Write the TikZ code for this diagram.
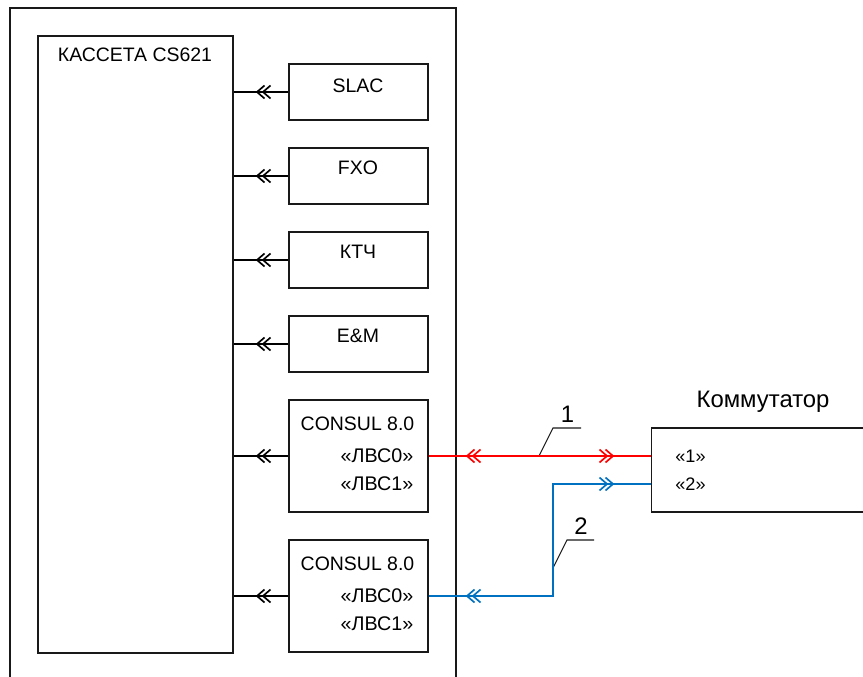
\documentclass[tikz,border=0pt]{standalone}
\usepackage{fontspec}
\setmainfont{Liberation Sans}
\definecolor{linkblue}{RGB}{0,112,192}
\definecolor{inkline}{RGB}{25,25,25}
\tikzset{
  every picture/.style={x=0.75pt,y=-0.75pt},
  frameline/.style={draw=inkline,line width=0.8pt},
  unitbox/.style={draw=inkline,line width=0.8pt,minimum width=104.25pt,inner sep=0pt},
  smallbox/.style={unitbox,minimum height=42pt},
  bigbox/.style={unitbox,minimum height=84pt},
  lbl/.style={font=\fontsize{14.6}{16}\selectfont,text=black,inner sep=0pt},
  portlbl/.style={font=\fontsize{14.8}{16}\selectfont,text=black,inner sep=0pt},
  numlbl/.style={font=\fontsize{13.6}{15}\selectfont,text=black,inner sep=0pt},
  bigtext/.style={font=\fontsize{17.9}{20}\selectfont,text=black,inner sep=0pt},
  link/.style={line width=1.5pt,line cap=butt},
  leader/.style={draw=inkline,line width=0.8pt},
  chev/.style={line width=1.25pt,line join=miter},
}
\newcommand{\chevL}[3][black]{% tip to the left
  \draw[chev,draw=#1] (#2+11,#3-6.5) -- (#2+3.5,#3) -- (#2+11,#3+6.5) (#2+6+11,#3-6.5) -- (#2+6+3.5,#3) -- (#2+6+11,#3+6.5);}
\newcommand{\chevR}[3][black]{% tip to the right
  \draw[chev,draw=#1] (#2-11,#3-6.5) -- (#2-3.5,#3) -- (#2-11,#3+6.5) (#2-6-11,#3-6.5) -- (#2-6-3.5,#3) -- (#2-6-11,#3+6.5);}
\begin{document}
\begin{tikzpicture}
\useasboundingbox (0,0) rectangle (863,677);
\clip (0,0) rectangle (863,677);
% outer frame, runs off the bottom
\draw[frameline] (10,700) -- (10,8) -- (456,8) -- (456,700);
% cassette
\node[unitbox,minimum width=146.25pt,minimum height=462.75pt] (cass) at (135.5,344.5) {};
\node[lbl] (casst) at (135,55) {КАССЕТА CS621};
% units
\node[smallbox] (slac) at (358.5,92) {};
\node[smallbox] (fxo) at (358.5,176) {};
\node[smallbox] (ktch) at (358.5,260) {};
\node[smallbox] (em) at (358.5,344) {};
\node[bigbox] (cona) at (358.5,456) {};
\node[bigbox] (conb) at (358.5,596) {};
\node[lbl] (slact) at (358,86) {SLAC};
\node[lbl] (fxot) at (358,168) {FXO};
\node[lbl] (ktcht) at (358,252) {КТЧ};
\node[lbl] (emt) at (358,336) {E\&M};
\node[lbl] (conat) at (357.5,424) {CONSUL 8.0};
\node[portlbl] (a0) at (377,456) {«ЛВС0»};
\node[portlbl] (a1) at (377,484) {«ЛВС1»};
\node[lbl] (conbt) at (357.5,564) {CONSUL 8.0};
\node[portlbl] (b0) at (377,596) {«ЛВС0»};
\node[portlbl] (b1) at (377,624) {«ЛВС1»};
% switch, runs off the right edge
\node[unitbox,minimum width=172.5pt,minimum height=63pt,anchor=west] (sw) at (651,470) {};
\node[bigtext] (swt) at (763,401.5) {Коммутатор};
\node[numlbl] (p1) at (690.5,456) {«1»};
\node[numlbl] (p2) at (690.5,484) {«2»};
% black connectors
\foreach \n in {slac,fxo,ktch,em,cona,conb}{
  \draw[link] (\n.west) -- (\n.west -| cass.east);
}
\chevL{253.5}{92}\chevL{253.5}{176}\chevL{253.5}{260}\chevL{253.5}{344}\chevL{253.5}{456}\chevL{253.5}{596}
% links
\coordinate (p1in) at (sw.west |- p1);
\coordinate (p2in) at (sw.west |- p2);
\coordinate (bend1) at (553,484);
\coordinate (bend2) at (553,596);
\coordinate (t1) at (539,456);
\coordinate (e1) at (553,428);
\coordinate (f1) at (581,428);
\coordinate (t2) at (553,568);
\coordinate (e2) at (567,540);
\coordinate (f2) at (594,540);
\draw[leader] (t1) -- (e1) -- (f1);
\draw[leader] (t2) -- (e2) -- (f2);
\node[bigtext] (n1) at (567.5,414) {1};
\node[bigtext] (n2) at (581,526) {2};
\draw[link,red] (cona.east) -- (p1in);
\draw[link,draw=linkblue,line join=miter] (conb.east) -- (bend2) -- (bend1) -- (p2in);
\chevL[red]{463.5}{456}
\chevR[red]{616.5}{456}
\chevL[linkblue]{463.5}{596}
\chevR[linkblue]{616.5}{484}
\end{tikzpicture}
\end{document}
